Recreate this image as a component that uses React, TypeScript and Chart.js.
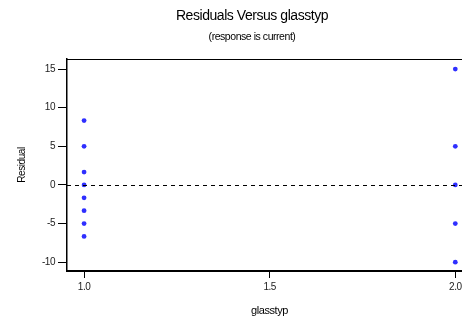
import React, { useEffect, useRef } from "react";
import { Chart, registerables } from "chart.js";

Chart.register(...registerables);

const titleText = "Residuals Versus glasstyp";
const subtitleText = "(response is current)";
const xLabel = "glasstyp";
const yLabel = "Residual";

const group1X = [1, 1, 1, 1, 1, 1, 1, 1];
const group1Y = [8.33, 5, 1.67, 0, -1.67, -3.33, -5, -6.67];
const group2X = [2, 2, 2, 2, 2];
const group2Y = [15, 5, 0, -5, -10];

const xTicks = [1.0, 1.5, 2.0];
const yTicks = [-10, -5, 0, 5, 10, 15];
const xMin = 0.954;
const xMax = 2.045;
const yMin = -11.14;
const yMax = 16.3;
const referenceY = 0;

const spacingPlugin = {
  id: "spacing",
  beforeUpdate(chart: any) {
    chart.ctx.letterSpacing = "-0.45px";
  },
  beforeDraw(chart: any) {
    chart.ctx.letterSpacing = "-0.45px";
  },
};

const framePlugin = {
  id: "frame",
  afterDatasetsDraw(chart: any) {
    const { ctx, chartArea, scales } = chart;
    ctx.save();
    ctx.strokeStyle = "#000";
    ctx.lineWidth = 1;
    ctx.beginPath();
    ctx.moveTo(chartArea.left, chartArea.top + 0.5);
    ctx.lineTo(chartArea.right, chartArea.top + 0.5);
    ctx.stroke();
    const y = Math.round(scales.y.getPixelForValue(referenceY)) + 0.5;
    ctx.setLineDash([4, 4]);
    ctx.beginPath();
    ctx.moveTo(chartArea.left, y);
    ctx.lineTo(chartArea.right, y);
    ctx.stroke();
    ctx.restore();
  },
};

export default function App() {
  const ref = useRef<HTMLCanvasElement>(null);
  useEffect(() => {
    if (!ref.current) return;
    const pts1 = group1X.map((x, i) => ({ x, y: group1Y[i] }));
    const pts2 = group2X.map((x, i) => ({ x, y: group2Y[i] }));
    const font = "'Liberation Sans', Arial, sans-serif";
    const chart = new Chart(ref.current, {
      type: "scatter",
      data: {
        datasets: [
          {
            data: pts1,
            backgroundColor: "#2f2fff",
            borderColor: "#2f2fff",
            pointRadius: 2.4,
            pointBorderWidth: 0,
          },
          {
            data: pts2,
            backgroundColor: "#2f2fff",
            borderColor: "#2f2fff",
            pointRadius: 2.4,
            pointBorderWidth: 0,
          },
        ],
      },
      options: {
        responsive: false,
        animation: false,
        devicePixelRatio: 1,
        layout: { padding: { left: 32, right: 33, top: 0, bottom: 0 } },
        plugins: {
          legend: { display: false },
          tooltip: { enabled: false },
          title: {
            display: true,
            text: titleText,
            color: "#000",
            font: { family: font, size: 14, weight: "normal" },
            padding: { top: 7.6, bottom: 4 },
          },
          subtitle: {
            display: true,
            text: subtitleText,
            color: "#000",
            font: { family: font, size: 10.5, weight: "normal" },
            padding: { top: 2, bottom: 16 },
          },
        },
        scales: {
          x: {
            type: "linear",
            min: xMin,
            max: xMax,
            afterBuildTicks: (s: any) => {
              s.ticks = xTicks.map((v) => ({ value: v }));
            },
            afterFit: (s: any) => {
              s.height = 49;
            },
            ticks: {
              color: "#222",
              font: { family: font, size: 10 },
              padding: 3,
              maxRotation: 0,
              callback: (v: any) => Number(v).toFixed(1),
            },
            grid: {
              drawOnChartArea: false,
              drawTicks: true,
              tickLength: 7,
              color: "#000",
              lineWidth: 1,
            },
            border: { display: true, color: "#000", width: 2 },
            title: {
              display: true,
              text: xLabel,
              color: "#000",
              font: { family: font, size: 11 },
              padding: { top: 0, bottom: 2.9 },
            },
          },
          y: {
            type: "linear",
            min: yMin,
            max: yMax,
            afterBuildTicks: (s: any) => {
              s.ticks = yTicks.map((v) => ({ value: v }));
            },
            afterFit: (s: any) => {
              s.width = 35;
            },
            ticks: {
              color: "#222",
              font: { family: font, size: 10 },
              padding: 3,
              callback: (v: any) => String(v),
            },
            grid: {
              drawOnChartArea: false,
              drawTicks: true,
              tickLength: 9,
              color: "#000",
              lineWidth: 1,
            },
            border: { display: true, color: "#000", width: 1.5 },
            title: {
              display: true,
              text: yLabel,
              color: "#000",
              font: { family: font, size: 10 },
              padding: { top: -16, bottom: 0 },
            },
          },
        },
      },
      plugins: [spacingPlugin, framePlugin],
    } as any);
    return () => chart.destroy();
  }, []);
  return (
    <div
      style={{
        position: "fixed",
        left: 0,
        top: 0,
        width: 462,
        height: 320,
        overflow: "hidden",
        background: "#fff",
      }}
    >
      <canvas ref={ref} width={505} height={320} style={{ width: 505, height: 320, display: "block" }} />
    </div>
  );
}
